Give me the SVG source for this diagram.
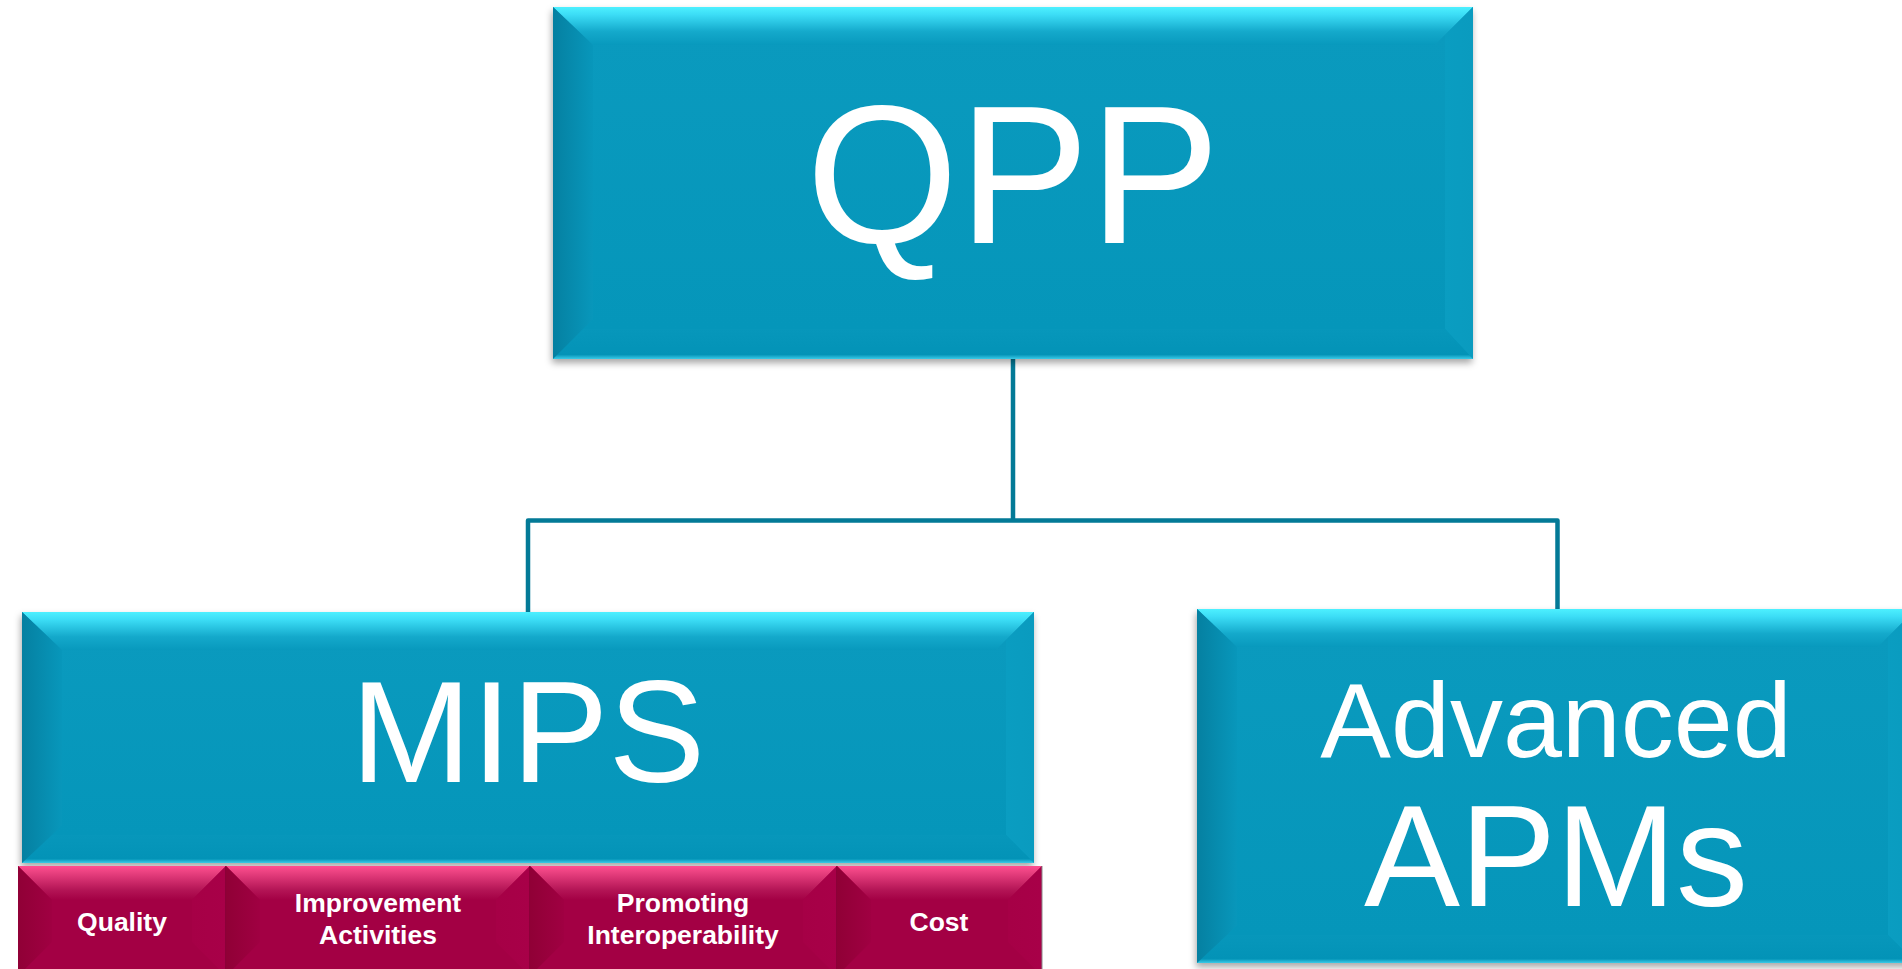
<svg xmlns="http://www.w3.org/2000/svg" width="1902" height="969" viewBox="0 0 1902 969">
<defs>
<linearGradient id="bTop" x1="0" y1="0" x2="0" y2="1">
<stop offset="0" stop-color="#4DF0FF"/>
<stop offset="0.2" stop-color="#3CDDF6"/>
<stop offset="0.65" stop-color="#14A9CB"/>
<stop offset="1" stop-color="#0899BD"/>
</linearGradient>
<linearGradient id="bLeft" x1="0" y1="0" x2="1" y2="0">
<stop offset="0" stop-color="#0580A1"/>
<stop offset="1" stop-color="#0897BB"/>
</linearGradient>
<linearGradient id="bRight" x1="0" y1="0" x2="1" y2="0">
<stop offset="0" stop-color="#0A9DC1"/>
<stop offset="1" stop-color="#0A9BBF"/>
</linearGradient>
<linearGradient id="bBottom" x1="0" y1="0" x2="0" y2="1">
<stop offset="0" stop-color="#0797BB"/>
<stop offset="0.85" stop-color="#0393B7"/>
<stop offset="1" stop-color="#3ACBE8"/>
</linearGradient>
<linearGradient id="bMain" x1="0" y1="0" x2="0" y2="1">
<stop offset="0" stop-color="#0A9ABE"/>
<stop offset="1" stop-color="#0596BA"/>
</linearGradient>
<linearGradient id="pTop" x1="0" y1="0" x2="0" y2="1">
<stop offset="0" stop-color="#FF4E90"/>
<stop offset="0.2" stop-color="#E8407F"/>
<stop offset="0.7" stop-color="#B41556"/>
<stop offset="1" stop-color="#A30044"/>
</linearGradient>
<linearGradient id="pLeft" x1="0" y1="0" x2="1" y2="0">
<stop offset="0" stop-color="#900036"/>
<stop offset="1" stop-color="#A00042"/>
</linearGradient>
<linearGradient id="pRight" x1="0" y1="0" x2="1" y2="0">
<stop offset="0" stop-color="#A60046"/>
<stop offset="1" stop-color="#A80048"/>
</linearGradient>
<filter id="shadow" x="-5%" y="-5%" width="110%" height="115%">
<feDropShadow dx="-1" dy="4" stdDeviation="3.5" flood-color="#000" flood-opacity="0.35"/>
</filter>
</defs>
<style>
.main{font-family:"Liberation Sans",Arial,sans-serif;fill:#FFFFFF;text-anchor:middle}
.sub{font-family:"Liberation Sans",Arial,sans-serif;fill:#FFFFFF;text-anchor:middle;font-weight:bold;font-size:26.5px}
.conn{fill:none;stroke:#037A97;stroke-width:4.5;stroke-linejoin:round}
</style>
<rect width="1902" height="969" fill="#FFFFFF"/>

<g id="connectors">
<path class="conn" d="M1013 359 V520.5"/>
<path class="conn" d="M528 612 V520.5 H1557.5 V609"/>
</g>

<g id="qpp">
<g filter="url(#shadow)">
<rect x="553" y="7" width="920" height="352" fill="url(#bMain)"/>
</g>
<polygon points="553,7 1473,7 1435,45 593,45" fill="url(#bTop)"/>
<polygon points="553,7 593,45 593,329 553,359" fill="url(#bLeft)"/>
<polygon points="1473,7 1473,359 1445,329 1445,35" fill="url(#bRight)"/>
<polygon points="553,359 1473,359 1445,329 583,329" fill="url(#bBottom)"/>
<polygon points="593,45 1435,45 1445,35 1445,329 583,329 593,319" fill="url(#bMain)"/>
<text class="main" x="1013" y="243" font-size="196">QPP</text>
</g>

<g id="mips">
<g filter="url(#shadow)">
<rect x="22" y="612" width="1012" height="251" fill="url(#bMain)"/>
</g>
<polygon points="22,612 1034,612 996,650 62,650" fill="url(#bTop)"/>
<polygon points="22,612 62,650 62,833 22,863" fill="url(#bLeft)"/>
<polygon points="1034,612 1034,863 1006,835 1006,640" fill="url(#bRight)"/>
<polygon points="22,863 1034,863 1006,835 52,835" fill="url(#bBottom)"/>
<polygon points="62,650 996,650 1006,640 1006,835 52,835 62,825" fill="url(#bMain)"/>
<text class="main" x="528" y="782" font-size="145">MIPS</text>
</g>

<g id="quality">
<rect x="18" y="866" width="208" height="110" fill="#A30044"/>
<polygon points="18,866 226,866 192,900 52,900" fill="url(#pTop)"/>
<polygon points="18,866 52,900 52,942 18,976" fill="url(#pLeft)"/>
<polygon points="226,866 226,976 192,942 192,900" fill="url(#pRight)"/>
<line x1="226" y1="866" x2="226" y2="969" stroke="#7A0030" stroke-width="1.2"/>
<text class="sub" x="122" y="931">Quality</text>
</g>

<g id="improvement">
<rect x="226" y="866" width="304" height="110" fill="#A30044"/>
<polygon points="226,866 530,866 496,900 260,900" fill="url(#pTop)"/>
<polygon points="226,866 260,900 260,942 226,976" fill="url(#pLeft)"/>
<polygon points="530,866 530,976 496,942 496,900" fill="url(#pRight)"/>
<line x1="530" y1="866" x2="530" y2="969" stroke="#7A0030" stroke-width="1.2"/>
<text class="sub" x="378" y="912">Improvement</text>
<text class="sub" x="378" y="944">Activities</text>
</g>

<g id="promoting">
<rect x="530" y="866" width="307" height="110" fill="#A30044"/>
<polygon points="530,866 837,866 803,900 564,900" fill="url(#pTop)"/>
<polygon points="530,866 564,900 564,942 530,976" fill="url(#pLeft)"/>
<polygon points="837,866 837,976 803,942 803,900" fill="url(#pRight)"/>
<line x1="837" y1="866" x2="837" y2="969" stroke="#7A0030" stroke-width="1.2"/>
<text class="sub" x="683" y="912">Promoting</text>
<text class="sub" x="683" y="944">Interoperability</text>
</g>

<g id="cost">
<rect x="837" y="866" width="205" height="110" fill="#A30044"/>
<polygon points="837,866 1042,866 1008,900 871,900" fill="url(#pTop)"/>
<polygon points="837,866 871,900 871,942 837,976" fill="url(#pLeft)"/>
<polygon points="1042,866 1042,976 1008,942 1008,900" fill="url(#pRight)"/>
<line x1="1042" y1="866" x2="1042" y2="969" stroke="#8A8A8A" stroke-width="1"/>
<text class="sub" x="939" y="931">Cost</text>
</g>

<g id="advanced-apms">
<g filter="url(#shadow)">
<rect x="1197" y="609" width="719" height="354" fill="url(#bMain)"/>
</g>
<polygon points="1197,609 1916,609 1878,647 1237,647" fill="url(#bTop)"/>
<polygon points="1197,609 1237,647 1237,933 1197,963" fill="url(#bLeft)"/>
<polygon points="1916,609 1916,963 1888,935 1888,637" fill="url(#bRight)"/>
<polygon points="1197,963 1916,963 1888,935 1227,935" fill="url(#bBottom)"/>
<polygon points="1237,647 1878,647 1888,637 1888,935 1227,935 1237,925" fill="url(#bMain)"/>
<text class="main" x="1556" y="757" font-size="106">Advanced</text>
<text class="main" x="1556" y="906" font-size="144">APMs</text>
</g>
</svg>
